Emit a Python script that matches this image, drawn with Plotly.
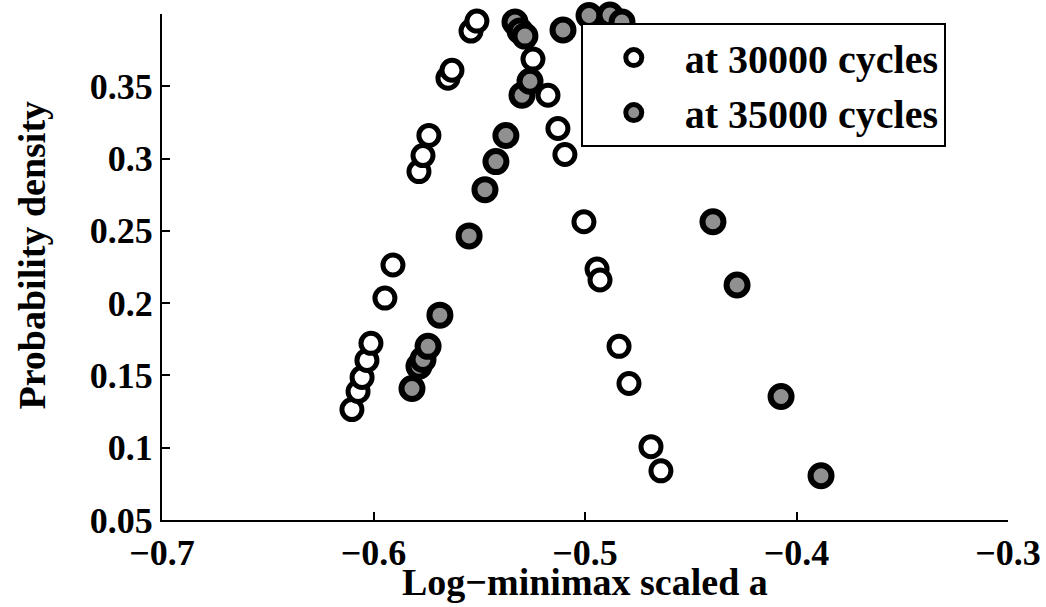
import plotly.graph_objects as go

# 30000 cycles (open circles)
x_30000 = [-0.6102, -0.6073, -0.6054, -0.6031, -0.6012, -0.5946, -0.5908, -0.5785,
           -0.5766, -0.5738, -0.5648, -0.5629, -0.5539, -0.5511, -0.5246, -0.5175,
           -0.5128, -0.5095, -0.5005, -0.4943, -0.4929, -0.4839, -0.4792, -0.4688, -0.4641]
y_30000 = [0.1264, 0.1389, 0.1486, 0.1604, 0.1722, 0.2035, 0.2264, 0.2910,
           0.3021, 0.3160, 0.3556, 0.3611, 0.3882, 0.3951, 0.3688, 0.3438,
           0.3208, 0.3028, 0.2563, 0.2236, 0.2160, 0.1701, 0.1444, 0.1007, 0.0840]

# 35000 cycles (filled circles)
x_35000 = [-0.5818, -0.5785, -0.5766, -0.5742, -0.5686, -0.5548, -0.5473, -0.5421,
           -0.5374, -0.5298, -0.5260, -0.5331, -0.5307, -0.5284, -0.5104, -0.4981,
           -0.4882, -0.4825, -0.4584, -0.4395, -0.4281, -0.4073, -0.3884]
y_35000 = [0.1410, 0.1563, 0.1611, 0.1701, 0.1917, 0.2465, 0.2785, 0.2979,
           0.3160, 0.3438, 0.3535, 0.3944, 0.3882, 0.3847, 0.3889, 0.3990,
           0.3993, 0.3944, 0.3278, 0.2563, 0.2125, 0.1354, 0.0806]

x_ticks = [-0.7, -0.6, -0.5, -0.4, -0.3]
x_tick_text = ["\u22120.7", "\u22120.6", "\u22120.5", "\u22120.4", "\u22120.3"]
y_ticks = [0.05, 0.1, 0.15, 0.2, 0.25, 0.3, 0.35]
y_tick_text = ["0.05", "0.1", "0.15", "0.2", "0.25", "0.3", "0.35"]

FONT = "Liberation Serif"

fig = go.Figure()
fig.add_trace(go.Scatter(
    x=x_30000, y=y_30000, mode="markers", name="<b>at 30000 cycles</b>",
    cliponaxis=False,
    marker=dict(size=20, color="white", line=dict(color="black", width=5)),
))
fig.add_trace(go.Scatter(
    x=x_35000, y=y_35000, mode="markers", name="<b>at 35000 cycles</b>",
    cliponaxis=False,
    marker=dict(size=21, color="#909090", line=dict(color="black", width=6)),
))

tick_font = dict(family=FONT, size=36, color="black")
fig.update_layout(
    width=1046, height=607,
    margin=dict(l=162, r=38, t=14, b=87, autoexpand=False),
    plot_bgcolor="white", paper_bgcolor="white",
    font=dict(family=FONT, color="black"),
    legend=dict(
        x=0.495, y=0.982, xanchor="left", yanchor="top",
        bgcolor="white", bordercolor="black", borderwidth=2,
        font=dict(family=FONT, size=40, color="black"),
        itemsizing="trace", itemwidth=92,
    ),
    xaxis=dict(
        range=[-0.7, -0.3], tickvals=x_ticks, ticktext=["<b>%s</b>" % t for t in x_tick_text],
        ticks="inside", ticklen=8, tickwidth=2, tickcolor="black",
        showline=True, linecolor="black", linewidth=2, mirror=False,
        showgrid=False, zeroline=False, tickfont=tick_font,
    ),
    yaxis=dict(
        range=[0.05, 0.4], tickvals=y_ticks, ticktext=["<b>%s</b>" % t for t in y_tick_text],
        ticks="inside", ticklen=8, tickwidth=2, tickcolor="black",
        showline=True, linecolor="black", linewidth=2, mirror=False,
        showgrid=False, zeroline=False, tickfont=tick_font,
    ),
    annotations=[
        dict(text="<b>Log\u2212minimax scaled a</b>", xref="paper", yref="paper",
             x=0.5, y=-0.1235, xanchor="center", yanchor="middle", showarrow=False,
             font=dict(family=FONT, size=38, color="black")),
        dict(text="<b>Probability density</b>", xref="paper", yref="paper",
             x=-0.154, y=0.524, xanchor="center", yanchor="middle", showarrow=False,
             textangle=-90, font=dict(family=FONT, size=38, color="black")),
    ],
)

fig.write_html("out.html", config={"displayModeBar": False},
               post_script="document.body.style.margin='0';document.body.style.overflow='hidden';")
